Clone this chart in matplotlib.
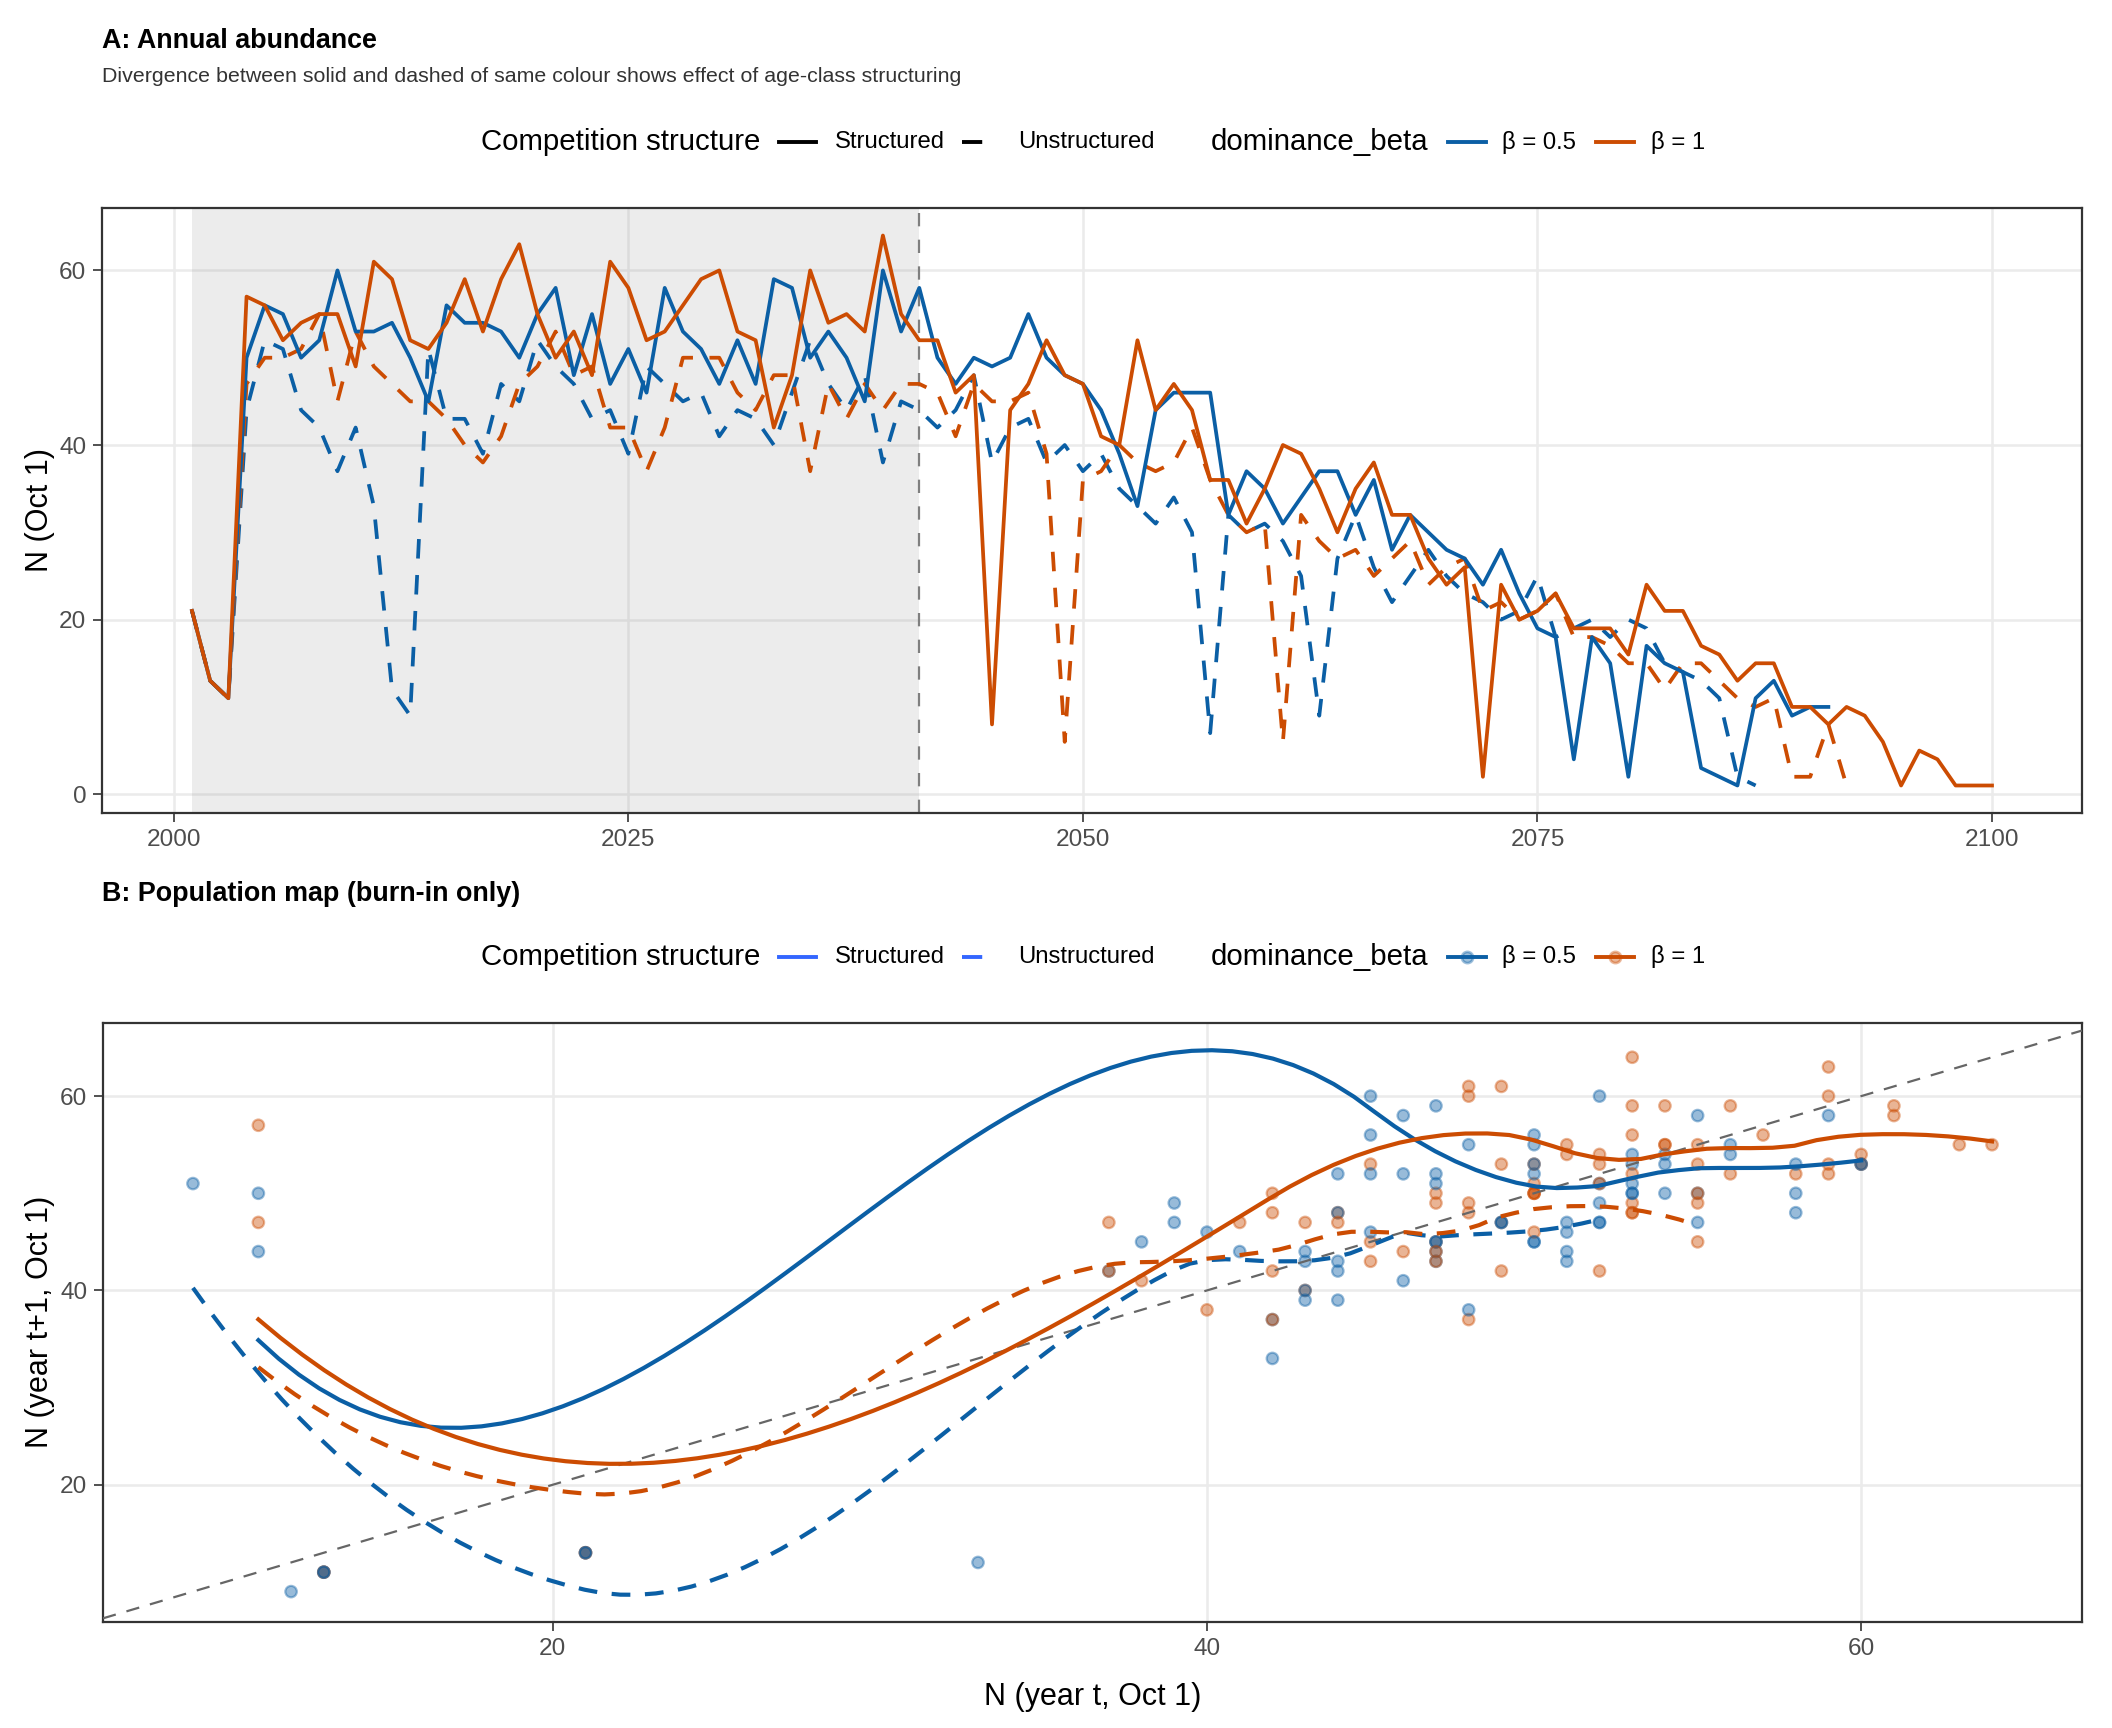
import numpy as np
import matplotlib
matplotlib.use("Agg")
import matplotlib.pyplot as plt
from matplotlib.lines import Line2D

plt.rcParams['font.family'] = ['Liberation Sans', 'DejaVu Sans']

BLUE = '#0B5FA5'
ORANGE = '#CC4C02'
KEY_BLUE = '#3366FF'

first_year = 2001
burn_in_end = 2041

# N on Oct 1, one value per year from 2001 until the run ends
n_b05_struct = [21, 13, 11, 50, 56, 55, 50, 52, 60, 53,
                53, 54, 50, 45, 56, 54, 54, 53, 50, 55,
                58, 48, 55, 47, 51, 46, 58, 53, 51, 47,
                52, 47, 59, 58, 50, 53, 50, 45, 60, 53,
                58, 50, 47, 50, 49, 50, 55, 50, 48, 47,
                44, 39, 33, 44, 46, 46, 46, 32, 37, 35,
                31, 34, 37, 37, 32, 36, 28, 32, 30, 28,
                27, 24, 28, 23, 19, 18, 4, 18, 15, 2,
                17, 15, 14, 3, 2, 1, 11, 13, 9, 10, 10]
n_b05_unstruct = [21, 13, 11, 44, 52, 51, 44, 42, 37, 42,
                  33, 12, 9, 51, 43, 43, 39, 47, 45, 52,
                  49, 47, 43, 44, 39, 49, 47, 45, 46, 41,
                  44, 43, 40, 46, 52, 47, 44, 48, 38, 45,
                  44, 42, 44, 48, 38, 42, 43, 38, 40, 37,
                  39, 35, 33, 31, 34, 30, 7, 32, 30, 31,
                  29, 25, 9, 27, 32, 26, 22, 25, 28, 25,
                  23, 22, 20, 21, 25, 18, 19, 20, 18, 20,
                  19, 15, 14, 13, 11, 2, 1]
n_b1_struct = [21, 13, 11, 57, 56, 52, 54, 55, 55, 49,
               61, 59, 52, 51, 54, 59, 53, 59, 63, 55,
               50, 53, 48, 61, 58, 52, 53, 56, 59, 60,
               53, 52, 42, 48, 60, 54, 55, 53, 64, 55,
               52, 52, 46, 48, 8, 44, 47, 52, 48, 47,
               41, 40, 52, 44, 47, 44, 36, 36, 31, 35,
               40, 39, 35, 30, 35, 38, 32, 32, 27, 24,
               26, 2, 24, 20, 21, 23, 19, 19, 19, 16,
               24, 21, 21, 17, 16, 13, 15, 15, 10, 10,
               8, 10, 9, 6, 1, 5, 4, 1, 1, 1]
n_b1_unstruct = [21, 13, 11, 47, 50, 50, 51, 55, 45, 53,
                 49, 47, 45, 45, 43, 40, 38, 41, 47, 49,
                 53, 48, 49, 42, 42, 37, 42, 50, 50, 50,
                 46, 44, 48, 48, 37, 47, 43, 47, 44, 47,
                 47, 46, 41, 47, 45, 45, 46, 39, 6, 36,
                 37, 40, 38, 37, 38, 42, 36, 32, 30, 31,
                 6, 32, 29, 27, 28, 25, 27, 29, 24, 26,
                 27, 21, 22, 20, 21, 23, 18, 18, 17, 15,
                 15, 12, 15, 15, 13, 11, 10, 11, 2, 2, 8, 1]

structure_labels = ['Structured', 'Unstructured']
beta_labels = ['β = 0.5', 'β = 1']

runs = [
    (n_b05_unstruct, BLUE, 'Unstructured'),
    (n_b1_unstruct, ORANGE, 'Unstructured'),
    (n_b05_struct, BLUE, 'Structured'),
    (n_b1_struct, ORANGE, 'Structured'),
]
styles_a = {'Structured': '-', 'Unstructured': (0, (5.2, 4.4))}
styles_b = {'Structured': '-', 'Unstructured': (0, (4.5, 3.5))}


def local_fit(x, y, x0, q):
    # weighted quadratic around x0, returns value and slope
    d = np.abs(x - x0)
    h = np.sort(d)[q - 1]
    w = np.clip(1 - (d / h) ** 3, 0, None) ** 3
    X = np.column_stack([np.ones(len(x)), x - x0, (x - x0) ** 2])
    sw = np.sqrt(w)
    b = np.linalg.lstsq(X * sw[:, None], y * sw, rcond=None)[0]
    return b[0], b[1]


def loess(x, y, xs, span=0.75, cell=0.2):
    # like R's loess(surface = "interpolate"): fits at kd-tree vertices,
    # cubic Hermite blending in between
    n = len(x)
    q = int(np.floor(n * span))
    fc = int(np.floor(n * span * cell))
    xsrt = np.sort(x)
    mu = 0.005 * (xsrt[-1] - xsrt[0])
    lo, hi = xsrt[0] - mu, xsrt[-1] + mu
    verts = {lo, hi}
    cells = [(0, n - 1, lo, hi)]
    while cells:
        l, u, vl, vu = cells.pop()
        if u - l + 1 <= fc or vu - vl <= 0:
            continue
        m = (l + u) // 2
        off = 0
        while l <= m + off < u:
            if xsrt[m + off] == xsrt[m + off + 1]:
                off = -off
                if off >= 0:
                    off += 1
            else:
                m = m + off
                break
        xi = xsrt[m]
        if xi == vl or xi == vu:
            continue
        verts.add(xi)
        cells.append((l, m, vl, xi))
        cells.append((m + 1, u, xi, vu))
    v = np.array(sorted(verts))
    g = np.array([local_fit(x, y, vv, q) for vv in v])
    out = []
    for x0 in xs:
        i = min(max(np.searchsorted(v, x0) - 1, 0), len(v) - 2)
        h = v[i + 1] - v[i]
        t = (x0 - v[i]) / h
        phi0 = (1 - t) ** 2 * (1 + 2 * t)
        phi1 = t ** 2 * (3 - 2 * t)
        psi0 = t * (1 - t) ** 2
        psi1 = -t ** 2 * (1 - t)
        out.append(phi0 * g[i, 0] + phi1 * g[i + 1, 0] + h * (psi0 * g[i, 1] + psi1 * g[i + 1, 1]))
    return np.array(out)


W, H = 2112, 1728
fig = plt.figure(figsize=(W / 200, H / 200), dpi=200)


def fx(px):
    return px / W


def fy(py):
    return 1 - py / H


def style_axes(ax):
    ax.set_facecolor('white')
    for sp in ax.spines.values():
        sp.set_color('#333333')
        sp.set_linewidth(0.8)
    ax.grid(True, color='#EBEBEB', lw=0.9)
    ax.set_axisbelow(True)
    ax.tick_params(length=3.2, width=0.6, color='#333333', labelsize=8.8,
                   labelcolor='#4D4D4D', pad=2.5)


# ---- Panel A ----
axA = fig.add_axes([fx(102), fy(813), fx(2082) - fx(102), fy(208) - fy(813)])
style_axes(axA)
axA.axvspan(first_year, burn_in_end, color='#7F7F7F', alpha=0.14, lw=0, zorder=1)
axA.axvline(burn_in_end, color='#7F7F7F', lw=0.8, ls=(0, (6, 6)), zorder=2)
for series, col, struct in runs:
    yrs = np.arange(first_year, first_year + len(series))
    axA.plot(yrs, series, color=col, lw=1.35, ls=styles_a[struct], zorder=3)
axA.set_xlim(1996.05, 2104.95)
axA.set_ylim(-2.15, 67.15)
axA.set_xticks([2000, 2025, 2050, 2075, 2100])
axA.set_yticks([0, 20, 40, 60])
fig.text(fx(40), fy(510), 'N (Oct 1)', rotation=90, size=11, ha='center', va='center')

# ---- Panel B ----
axB = fig.add_axes([fx(103), fy(1622), fx(2082) - fx(103), fy(1023) - fy(1622)])
style_axes(axB)
n_pairs = 2040 - first_year

# lagged pairs (N_t, N_t+1) over the burn-in, drawn year by year
px, py, pc, pt, po = [], [], [], [], []
for k, (series, col, struct) in enumerate(runs):
    s = np.array(series, dtype=float)
    px.extend(s[:n_pairs])
    py.extend(s[1:n_pairs + 1])
    pc.extend([col] * n_pairs)
    pt.extend(range(n_pairs))
    po.extend([0 if col == ORANGE else 1] * n_pairs)
order = np.lexsort((po, pt))
px, py = np.array(px)[order], np.array(py)[order]
pc = [pc[i] for i in order]
axB.scatter(px, py, s=17, c=pc, alpha=0.42, edgecolors=pc, linewidths=0.8, zorder=2)

all_y = list(py)
curves = []
for series, col, struct in runs:
    s = np.array(series, dtype=float)
    x, y = s[:n_pairs], s[1:n_pairs + 1]
    xs = np.linspace(x.min(), x.max(), 80)
    ys = loess(x, y, xs)
    curves.append((xs, ys, col, struct))
    all_y.extend(ys)
axB.axline((0, 0), (1, 1), color='#666666', lw=0.8, ls=(0, (6, 5)), zorder=3)
for xs, ys, col, struct in curves:
    axB.plot(xs, ys, color=col, lw=1.5, ls=styles_b[struct], zorder=4)
xr = px.max() - px.min()
axB.set_xlim(px.min() - 0.05 * xr, px.max() + 0.05 * xr)
yr = max(all_y) - min(all_y)
axB.set_ylim(min(all_y) - 0.05 * yr, max(all_y) + 0.05 * yr)
axB.set_xticks([20, 40, 60])
axB.set_yticks([20, 40, 60])
fig.text(fx(40), fy(1322), 'N (year t+1, Oct 1)', rotation=90, size=11, ha='center', va='center')
fig.text(fx(1093), fy(1697), 'N (year t, Oct 1)', size=11, ha='center', va='center')

# ---- titles ----
fig.text(fx(102), fy(41), 'A: Annual abundance', size=9.7, weight='bold', va='center')
fig.text(fx(102), fy(77), 'Divergence between solid and dashed of same colour shows effect of age-class structuring',
         size=7.7, color='#333333', va='center')
fig.text(fx(102), fy(894), 'B: Population map (burn-in only)', size=9.7, weight='bold', va='center')


# ---- legends ----
def key_line(x0, x1, yc, col, ls, lw=1.4, point=False):
    fig.add_artist(Line2D([fx(x0), fx(x1)], [fy(yc), fy(yc)], transform=fig.transFigure,
                          color=col, lw=lw, ls=ls))
    if point:
        fig.add_artist(Line2D([fx((x0 + x1) / 2)], [fy(yc)], transform=fig.transFigure,
                              marker='o', ms=4, color=col, alpha=0.4, ls='none'))


def legend_row(yc, struct_col, with_points):
    fig.text(fx(481), fy(yc), 'Competition structure', size=10.6, va='center')
    key_line(779, 816, yc, struct_col, styles_a['Structured'])
    fig.text(fx(835), fy(yc), structure_labels[0], size=8.6, va='center')
    key_line(962, 998, yc, struct_col, styles_a['Unstructured'])
    fig.text(fx(1018), fy(yc), structure_labels[1], size=8.6, va='center')
    fig.text(fx(1211), fy(yc), 'dominance_beta', size=10.6, va='center')
    key_line(1448, 1486, yc, BLUE, '-', point=with_points)
    fig.text(fx(1502), fy(yc), beta_labels[0], size=8.6, va='center')
    key_line(1596, 1634, yc, ORANGE, '-', point=with_points)
    fig.text(fx(1651), fy(yc), beta_labels[1], size=8.6, va='center')


legend_row(142, 'black', False)
legend_row(957, KEY_BLUE, True)

fig.savefig('out.png', dpi=200, facecolor='white')
